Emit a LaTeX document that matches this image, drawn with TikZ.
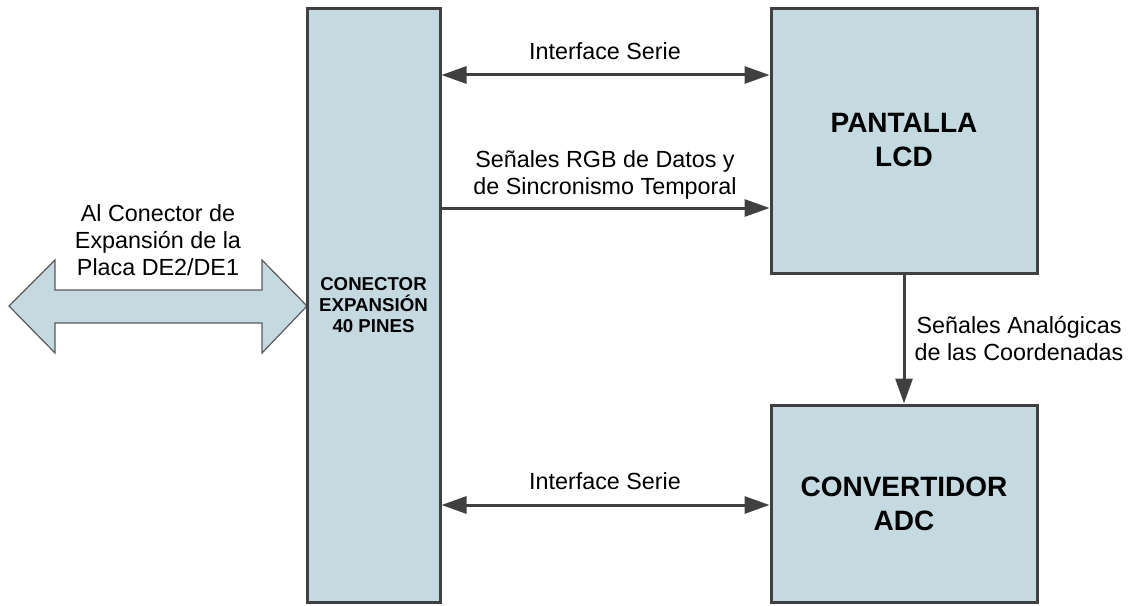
\documentclass[tikz,border=0pt]{standalone}
\usepackage{fontspec}
\setmainfont{Liberation Sans}
\usetikzlibrary{arrows.meta}
\definecolor{boxfill}{RGB}{197,217,224}
\definecolor{edge}{RGB}{64,64,64}
\definecolor{bigedge}{RGB}{90,90,90}
\tikzset{
  blockbox/.style={draw=edge, fill=boxfill, line width=2.25pt, inner sep=0pt, align=center},
  conn/.style={draw=edge, line width=2.25pt, -{Triangle[length=18.75pt,width=12.75pt]}},
  dconn/.style={draw=edge, line width=2.25pt, {Triangle[length=18.75pt,width=12.75pt]}-{Triangle[length=18.75pt,width=12.75pt]}},
  lbl/.style={font=\fontsize{17.5}{20.25}\selectfont, align=center, inner sep=0pt},
  bigtext/.style={font=\bfseries\fontsize{21}{25.5}\selectfont, align=center, inner sep=0pt},
}
\begin{document}
\begin{tikzpicture}[x=0.75pt,y=-0.75pt]
\useasboundingbox (0,0) rectangle (1134,606);
% big double arrow
\filldraw[fill=boxfill, draw=bigedge, line width=0.9pt]
  (9,306) -- (55,260) -- (55,290) -- (262,290) -- (262,260) -- (307,306)
  -- (262,353) -- (262,323) -- (55,323) -- (55,353) -- cycle;
\node[lbl] (ext) at (158,240) {Al Conector de\\Expansión de la\\Placa DE2/DE1};
% blocks
\node[blockbox, minimum width=133*0.75pt, minimum height=594*0.75pt,
      font=\bfseries\fontsize{14}{15.75}\selectfont] (conn) at (373.5,305.5) {CONECTOR\\EXPANSIÓN\\40 PINES};
\node[blockbox, minimum width=266*0.75pt, minimum height=264*0.75pt] (lcd) at (904,141) {};
\node[blockbox, minimum width=266*0.75pt, minimum height=197*0.75pt] (adc) at (904,503.5) {};
\node[bigtext] (lcdt) at (904,140) {PANTALLA\\LCD};
\node[bigtext] (adct) at (904,503.5) {CONVERTIDOR\\ADC};
% connectors
\coordinate (ya) at (0,75);
\coordinate (yb) at (0,208);
\coordinate (yc) at (0,505);
\draw[dconn] (conn.east |- ya) -- (lcd.west |- ya);
\draw[conn] (conn.east |- yb) -- (lcd.west |- yb);
\draw[dconn] (conn.east |- yc) -- (adc.west |- yc);
\draw[conn] (lcd.south) -- (adc.north);
% labels
\node[lbl] (l1) at (605,51) {Interface Serie};
\node[lbl] (l2) at (605,175) {Señales RGB de Datos y\\de Sincronismo Temporal};
\node[lbl] (l3) at (605,481) {Interface Serie};
\node[lbl] (l4) at (1019,339) {Señales Analógicas\\de las Coordenadas};
\end{tikzpicture}
\end{document}
